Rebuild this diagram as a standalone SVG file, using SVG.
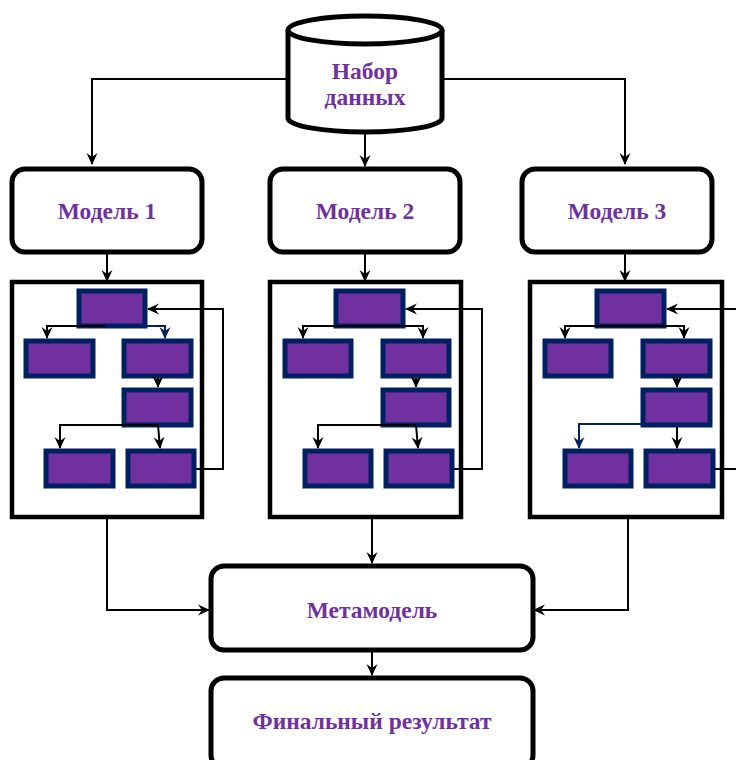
<svg xmlns="http://www.w3.org/2000/svg" width="736" height="760" viewBox="0 0 736 760">
<style>
.big{fill:#fff;stroke:#000;stroke-width:5}
.frame{fill:#fff;stroke:#000;stroke-width:4.5}
.cell{fill:#7030A0;stroke:#002060;stroke-width:5}
.t{font-family:"Liberation Serif","Times New Roman",serif;font-weight:bold;fill:#7030A0;text-anchor:middle;font-size:23.5px}
.c{fill:none;stroke:#000;stroke-width:2}
.cb{fill:none;stroke:#002060;stroke-width:2}
</style>
<defs>
<marker id="a" markerWidth="12" markerHeight="12" refX="11" refY="6" orient="auto" markerUnits="userSpaceOnUse">
<path d="M0,0.5 L12,6 L0,11.5 L4,6 Z" fill="#000"/>
</marker>
<marker id="ab" markerWidth="12" markerHeight="12" refX="11" refY="6" orient="auto" markerUnits="userSpaceOnUse">
<path d="M0,0.5 L12,6 L0,11.5 L4,6 Z" fill="#002060"/>
</marker>
</defs>
<g id="dataset">
<path class="big" d="M288,30 V118 A77,14 0 0 0 442,118 V30"/>
<ellipse class="big" cx="365" cy="30" rx="77" ry="14"/>
<text class="t" x="365" y="79">Набор</text>
<text class="t" x="365" y="105">данных</text>
</g>
<g id="model1">
<rect class="big" x="12" y="169" width="190" height="83" rx="13"/>
<text class="t" x="107" y="219">Модель 1</text>
</g>
<g id="model2">
<rect class="big" x="270" y="169" width="190" height="83" rx="13"/>
<text class="t" x="365" y="219">Модель 2</text>
</g>
<g id="model3">
<rect class="big" x="522" y="169" width="190" height="83" rx="13"/>
<text class="t" x="617" y="219">Модель 3</text>
</g>
<g id="tree1">
<rect class="frame" x="12" y="282" width="190" height="235"/>
<rect class="cell" x="79" y="291" width="66" height="35"/>
<rect class="cell" x="26" y="341" width="67" height="35"/>
<rect class="cell" x="124" y="341" width="67" height="35"/>
<rect class="cell" x="124" y="390" width="67" height="35"/>
<rect class="cell" x="46" y="451" width="67" height="35"/>
<rect class="cell" x="128" y="451" width="66" height="35"/>
</g>
<g id="tree2">
<rect class="frame" x="270" y="282" width="191" height="235"/>
<rect class="cell" x="336" y="291" width="67" height="35"/>
<rect class="cell" x="285" y="341" width="66" height="35"/>
<rect class="cell" x="383" y="341" width="66" height="35"/>
<rect class="cell" x="383" y="390" width="66" height="35"/>
<rect class="cell" x="305" y="451" width="66" height="35"/>
<rect class="cell" x="386" y="451" width="66" height="35"/>
</g>
<g id="tree3">
<rect class="frame" x="530" y="282" width="192" height="235"/>
<rect class="cell" x="597" y="291" width="67" height="35"/>
<rect class="cell" x="545" y="341" width="66" height="35"/>
<rect class="cell" x="643" y="341" width="67" height="35"/>
<rect class="cell" x="643" y="390" width="67" height="35"/>
<rect class="cell" x="565" y="451" width="66" height="35"/>
<rect class="cell" x="646" y="451" width="67" height="35"/>
</g>
<g id="meta">
<rect class="big" x="211" y="566" width="322" height="84" rx="13"/>
<text class="t" x="372" y="618">Метамодель</text>
</g>
<g id="final">
<rect class="big" x="211" y="678" width="322" height="90" rx="13"/>
<text class="t" x="372" y="729">Финальный результат</text>
</g>
<g id="connectors">
<path class="c" d="M288,79 H92 V164" marker-end="url(#a)"/>
<path class="c" d="M440,79 H625 V164" marker-end="url(#a)"/>
<path class="c" d="M365,134 V166" marker-end="url(#a)"/>
<path class="c" d="M107,252 V281" marker-end="url(#a)"/>
<path class="c" d="M365,252 V281" marker-end="url(#a)"/>
<path class="c" d="M625,252 V281" marker-end="url(#a)"/>
<path class="c" d="M107,519 V610 H209" marker-end="url(#a)"/>
<path class="c" d="M372,519 V563" marker-end="url(#a)"/>
<path class="c" d="M628,519 V610 H534" marker-end="url(#a)"/>
<path class="c" d="M372,652 V675" marker-end="url(#a)"/>
<path class="c" d="M105,326 H47 V338" marker-end="url(#a)"/>
<path class="cb" d="M105,326 H165 V338" marker-end="url(#ab)"/>
<path class="c" d="M158,378 V387" marker-end="url(#a)"/>
<path class="c" d="M158,425 H60 V448" marker-end="url(#a)"/>
<path class="c" d="M158,425 L160,448" marker-end="url(#a)"/>
<path class="c" d="M196,469 H223 V309 H148" marker-end="url(#a)"/>
<path class="c" d="M369,326 H303 V338" marker-end="url(#a)"/>
<path class="c" d="M369,326 H423 V338" marker-end="url(#a)"/>
<path class="c" d="M416,378 V387" marker-end="url(#a)"/>
<path class="c" d="M416,425 H318 V448" marker-end="url(#a)"/>
<path class="c" d="M416,425 L418,448" marker-end="url(#a)"/>
<path class="c" d="M454,469 H482 V309 H406" marker-end="url(#a)"/>
<path class="c" d="M630,326 H565 V338" marker-end="url(#a)"/>
<path class="c" d="M630,326 H684 V338" marker-end="url(#a)"/>
<path class="c" d="M677,378 V387" marker-end="url(#a)"/>
<path class="cb" d="M641,424 H579 V448" marker-end="url(#ab)"/>
<path class="c" d="M677,427 V448" marker-end="url(#a)"/>
<path class="c" d="M736,309 H667" marker-end="url(#a)"/>
<path class="c" d="M715,469 H736"/>
</g>
</svg>
